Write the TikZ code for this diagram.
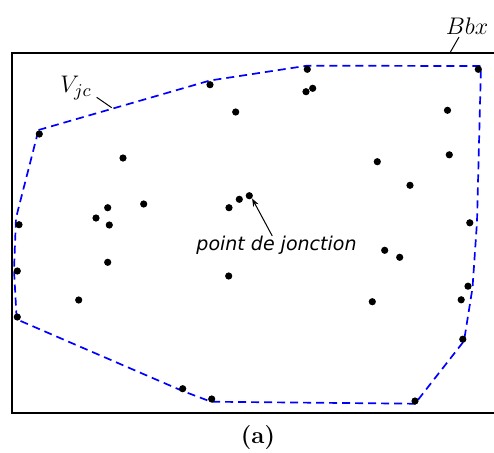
\documentclass[tikz,border=0pt]{standalone}
\usepackage{fontspec}
\newfontfamily\labelfont{DejaVu Sans}
\usetikzlibrary{arrows.meta}
\begin{document}
\begin{tikzpicture}[x=0.5pt,y=-0.5pt,
  dot/.style={circle,fill=black,inner sep=0pt,minimum size=3.6pt},
  hull/.style={blue,line width=0.85pt,dash pattern=on 4pt off 2.5pt},
  frame/.style={black,line width=1pt},
  leader/.style={black,line width=0.5pt},
  lbl/.style={inner sep=0pt,font=\fontsize{12.5}{14}\selectfont}]
\useasboundingbox (0,0) rectangle (494,452);
\clip (0,0) rectangle (494,452);
% bounding box frame
\draw[frame] (11.5,53.3) rectangle (520,412.7);
% hull
\draw[hull] (38.5,130) -- (210,80.5) -- (307,65.7) -- (481,66) -- (477,222)
  -- (472.5,288) -- (464,341) -- (415,403.7) -- (211,401.7) -- (182.7,391)
  -- (16.7,319.3) -- (14,270) -- (16,218) -- cycle;
% points
\foreach \n/\px/\py in {1/39.3/134, 2/210/84.7, 3/235.7/112, 4/307.3/69.3,
  5/306/91.7, 6/312.7/88.3, 7/478.3/69.3, 8/447.5/110.3, 9/449.3/154.8,
  10/377.3/161.7, 11/410/185.3, 12/123/158, 13/96/218, 14/107.7/207.7,
  15/109.3/225, 16/143.7/204, 17/229/207.7, 18/239.3/199.3, 19/249.3/195.7,
  20/19/224.7, 21/17.3/271, 22/107.7/262.3, 23/78.7/300, 24/17.3/317,
  25/228.7/276, 26/182.7/388.7, 27/211.7/399, 28/469.8/222.8, 29/384.7/250.3,
  30/399.7/257.3, 31/372.3/301.7, 32/468/286.2, 33/461.2/299.8, 34/462.8/339.2,
  35/415/401}
  \node[dot] (p\n) at (\px,\py) {};
% labels
\node[lbl] (bbx) at (467,26) {$Bbx$};
\coordinate (bbxa) at (459,37);
\coordinate (bbxb) at (449.7,53.3);
\draw[leader] (bbxa) -- (bbxb);
\node[lbl] (vjc) at (76,88) {$V_{jc}$};
\coordinate (vjca) at (96.7,97.3);
\coordinate (vjcb) at (111.7,107.7);
\draw[leader] (vjca) -- (vjcb);
\node[inner sep=0pt,font=\labelfont\itshape\fontsize{9.5}{11}\selectfont] (pj) at (276.5,245) {point de jonction};
\coordinate (pjt) at (272.3,236);
\draw[leader,-{Stealth[length=4pt,width=3pt]}] (pjt) -- (p19.south east);
\node[inner sep=0pt,font=\fontsize{12}{14}\selectfont\bfseries] (cap) at (258,438) {(a)};
\end{tikzpicture}
\end{document}
